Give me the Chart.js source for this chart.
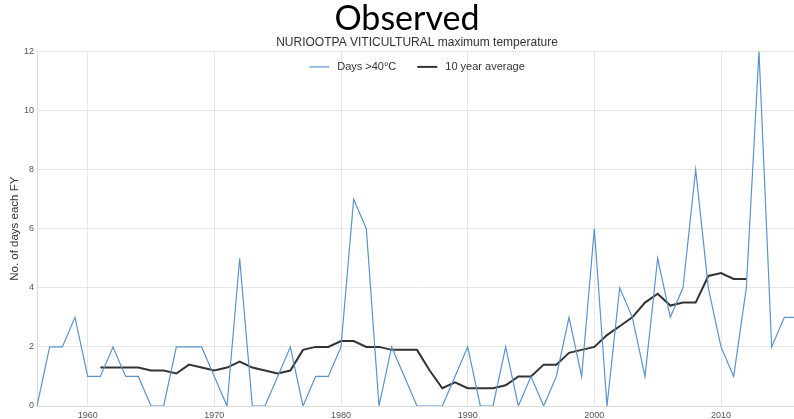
<!DOCTYPE html>
<html>
<head>
<meta charset="utf-8">
<script src="https://cdn.jsdelivr.net/npm/chart.js@4"></script>
<style>
  html, body { margin: 0; padding: 0; background: #fff; overflow: hidden; width: 794px; height: 419px; }
  #wrap { position: absolute; left: 0; top: 0; width: 800px; height: 419px; }
  #heading { position: absolute; left: 0; top: -3px; width: 814px; text-align: center;
             font-family: Lato, "Liberation Sans", sans-serif; font-size: 34px; line-height: 40px; color: #000; }
</style>
</head>
<body>
<div id="wrap"><canvas id="c"></canvas></div>
<div id="heading">Observed</div>
<script>
// Financial years
const years = [
  1956, 1957, 1958, 1959, 1960, 1961, 1962, 1963, 1964, 1965,
  1966, 1967, 1968, 1969, 1970, 1971, 1972, 1973, 1974, 1975,
  1976, 1977, 1978, 1979, 1980, 1981, 1982, 1983, 1984, 1985,
  1986, 1987, 1988, 1989, 1990, 1991, 1992, 1993, 1994, 1995,
  1996, 1997, 1998, 1999, 2000, 2001, 2002, 2003, 2004, 2005,
  2006, 2007, 2008, 2009, 2010, 2011, 2012, 2013, 2014, 2015,
  2016
];

// Days above 40°C in each financial year
const daysOver40 = [
  0, 2, 2, 3, 1, 1, 2, 1, 1, 0,
  0, 2, 2, 2, 1, 0, 5, 0, 0, 1,
  2, 0, 1, 1, 2, 7, 6, 0, 2, 1,
  0, 0, 0, 1, 2, 0, 0, 2, 0, 1,
  0, 1, 3, 1, 6, 0, 4, 3, 1, 5,
  3, 4, 8, 4, 2, 1, 4, 12, 2, 3,
  3
];

// Centred 10 year average (no value where the window is incomplete)
const tenYearAverage = [
  null, null, null, null, null, 1.3, 1.3, 1.3, 1.3, 1.2,
  1.2, 1.1, 1.4, 1.3, 1.2, 1.3, 1.5, 1.3, 1.2, 1.1,
  1.2, 1.9, 2.0, 2.0, 2.2, 2.2, 2.0, 2.0, 1.9, 1.9,
  1.9, 1.2, 0.6, 0.8, 0.6, 0.6, 0.6, 0.7, 1.0, 1.0,
  1.4, 1.4, 1.8, 1.9, 2.0, 2.4, 2.7, 3.0, 3.5, 3.8,
  3.4, 3.5, 3.5, 4.4, 4.5, 4.3, 4.3, null, null, null,
  null
];

// Axis ranges and labelled ticks
const xRange = [1956, 2016];
const xTickYears = [1960, 1970, 1980, 1990, 2000, 2010];
const yRange = [0, 12];
const yTickStep = 2;

const toPoints = vals => years.map((yr, i) => ({ x: yr, y: vals[i] }));

const FONT = '"Liberation Sans", Arial, sans-serif';
Chart.defaults.font.family = FONT;

// Single-row legend drawn inside the top of the plot area
const insideLegend = {
  id: 'insideLegend',
  afterDraw(chart) {
    const { ctx, chartArea } = chart;
    const sample = 20, gapText = 8, gapItem = 21;
    ctx.save();
    ctx.font = '11px ' + FONT;
    const items = chart.data.datasets.map(ds => ({
      label: ds.label, color: ds.borderColor, width: ds.borderWidth,
      textW: ctx.measureText(ds.label).width
    }));
    const total = items.reduce((s, it) => s + sample + gapText + it.textW, 0) + gapItem * (items.length - 1);
    let x = (chartArea.left + chartArea.right) / 2 - total / 2;
    const y = chartArea.top + 15.5;
    ctx.textBaseline = 'middle';
    ctx.textAlign = 'left';
    items.forEach(it => {
      ctx.strokeStyle = it.color;
      ctx.lineWidth = it.width;
      ctx.beginPath();
      ctx.moveTo(x, y);
      ctx.lineTo(x + sample, y);
      ctx.stroke();
      ctx.fillStyle = '#333';
      ctx.fillText(it.label, x + sample + gapText, y);
      x += sample + gapText + it.textW + gapItem;
    });
    ctx.restore();
  }
};

new Chart(document.getElementById('c'), {
  type: 'line',
  data: {
    datasets: [
      {
        label: 'Days >40°C',
        data: toPoints(daysOver40),
        borderColor: '#5b93cc',
        borderWidth: 1.2,
        pointRadius: 0,
        tension: 0,
        fill: false
      },
      {
        label: '10 year average',
        data: toPoints(tenYearAverage),
        borderColor: '#333333',
        borderWidth: 2,
        pointRadius: 0,
        tension: 0,
        fill: false,
        spanGaps: false
      }
    ]
  },
  options: {
    responsive: true,
    maintainAspectRatio: false,
    animation: false,
    layout: { padding: { top: 29, right: 3, left: 0, bottom: 0 } },
    plugins: {
      title: {
        display: true,
        text: 'NURIOOTPA VITICULTURAL maximum temperature',
        fullSize: false,
        color: '#333',
        font: { size: 12, weight: 'normal' },
        padding: { top: 6, bottom: 2 }
      },
      legend: { display: false },
      tooltip: { enabled: false }
    },
    scales: {
      x: {
        type: 'linear',
        min: xRange[0],
        max: xRange[1],
        afterFit: s => { s.height = 13; },
        afterBuildTicks: s => { s.ticks = xTickYears.map(v => ({ value: v })); },
        ticks: {
          maxRotation: 0,
          autoSkip: false,
          padding: 4,
          color: '#555',
          font: { size: 9 },
          callback: v => String(v)
        },
        grid: { color: '#e6e6e6', drawTicks: false },
        border: { color: '#dcdcdc' }
      },
      y: {
        min: yRange[0],
        max: yRange[1],
        afterFit: s => { s.width = 37; },
        ticks: {
          stepSize: yTickStep,
          padding: 3,
          color: '#555',
          font: { size: 9 }
        },
        grid: { color: '#e6e6e6', drawTicks: false },
        border: { color: '#dcdcdc' },
        title: {
          display: true,
          text: 'No. of days each FY',
          color: '#333',
          font: { size: 11.5 },
          padding: { top: 8, bottom: 0 }
        }
      }
    }
  },
  plugins: [insideLegend]
});
</script>
</body>
</html>
